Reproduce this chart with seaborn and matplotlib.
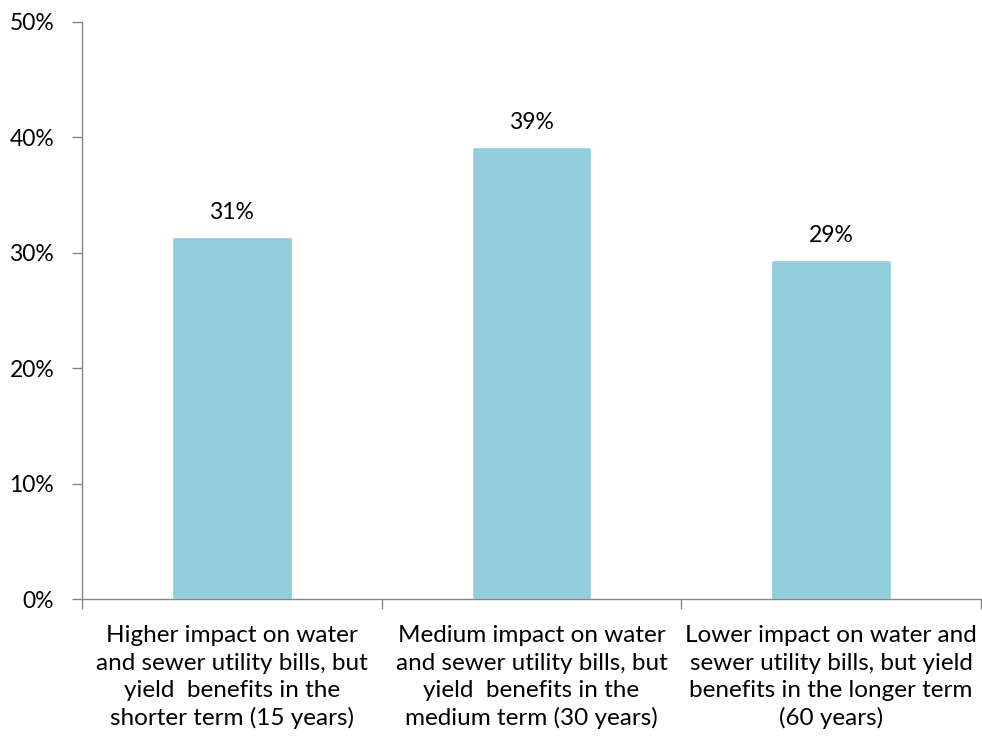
import matplotlib
matplotlib.use("Agg")
import matplotlib.pyplot as plt
import seaborn as sns
import pandas as pd
from matplotlib.ticker import FixedLocator, PercentFormatter

categories = [
    "Higher impact on water\nand sewer utility bills, but\nyield  benefits in the\nshorter term (15 years)",
    "Medium impact on water\nand sewer utility bills, but\nyield  benefits in the\nmedium term (30 years)",
    "Lower impact on water and\nsewer utility bills, but yield\nbenefits in the longer term\n(60 years)",
]
values = [31.4, 39.2, 29.4]
value_labels = ["31%", "39%", "29%"]
yticks = [0, 10, 20, 30, 40, 50]

sns.set_theme(style="white")
plt.rcParams['font.family'] = ['Lato', 'DejaVu Sans']

fs_tick = 16.5
fs_cat = 17.5
fig = plt.figure(figsize=(9.82, 7.42), dpi=100)
ax = fig.add_axes([82/982, 1 - 599/742, 899/982, 577/742])

df = pd.DataFrame({"cat": categories, "val": values})
sns.barplot(data=df, x="cat", y="val", color="#92CDDC", width=0.4,
            saturation=1, ax=ax)

axis_col = "#868686"
ax.set_ylim(0, 50)
ax.set_xlim(-0.5, 2.5)
ax.set_yticks(yticks)
ax.yaxis.set_major_formatter(PercentFormatter(decimals=0))
ax.tick_params(axis="y", length=7, width=1, color=axis_col, labelsize=fs_tick,
               labelcolor="black", left=True, direction="out", pad=13)
ax.tick_params(axis="x", which="major", length=0, labelsize=fs_cat,
               labelcolor="black", pad=19)
ax.xaxis.set_minor_locator(FixedLocator([-0.5, 0.5, 1.5, 2.5]))
ax.tick_params(axis="x", which="minor", length=7, width=1, color=axis_col,
               bottom=True, direction="out")
ax.set_xlabel("")
ax.set_ylabel("")
for lbl in ax.get_xticklabels():
    lbl.set_linespacing(1.36)

for s in ["top", "right"]:
    ax.spines[s].set_visible(False)
for s in ["left", "bottom"]:
    ax.spines[s].set_color(axis_col)
    ax.spines[s].set_linewidth(1)

for i, (v, t) in enumerate(zip(values, value_labels)):
    ax.annotate(t, (i, v), xytext=(0, 10), textcoords="offset points",
                ha="center", va="bottom", fontsize=fs_tick, color="black")

fig.savefig("out.png", dpi=100)
